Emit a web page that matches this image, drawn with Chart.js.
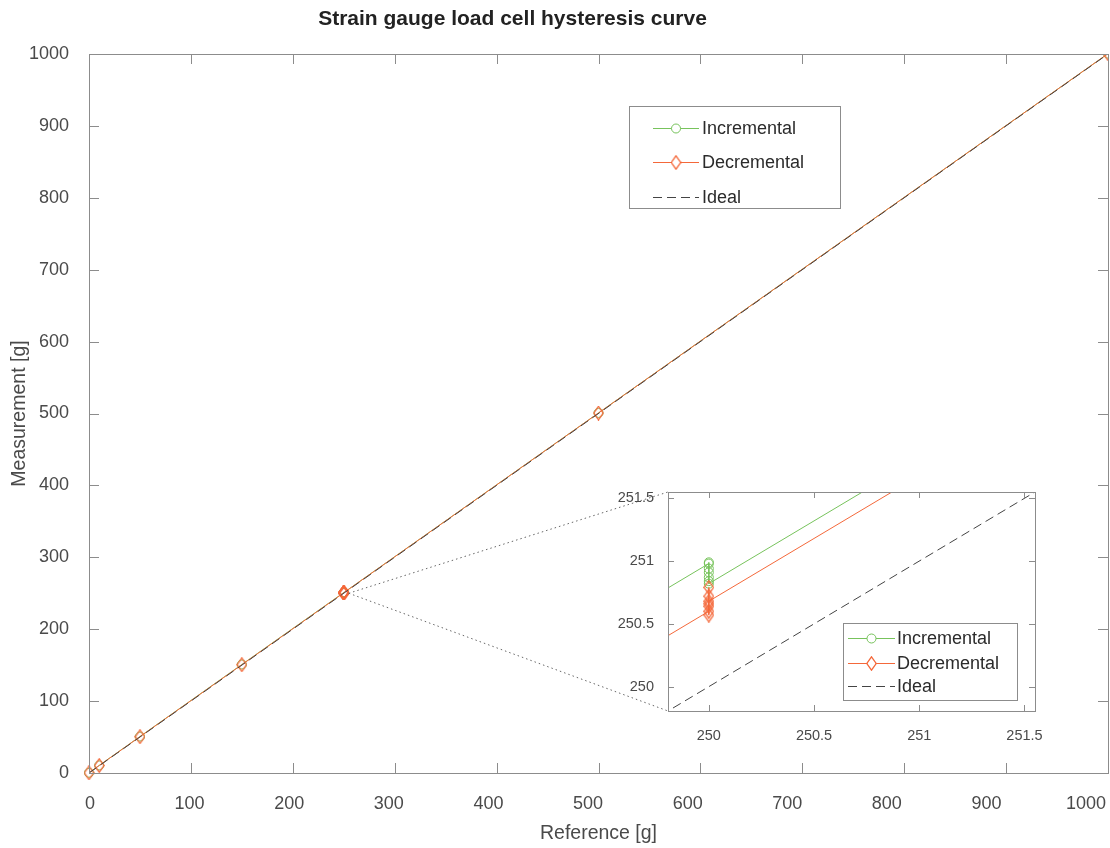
<!DOCTYPE html>
<html>
<head>
<meta charset="utf-8">
<title>Hysteresis curve</title>
<script src="https://cdn.jsdelivr.net/npm/chart.js@4.4.0/dist/chart.umd.min.js"></script>
<style>
    html, body { margin: 0; padding: 0; background: #fff; }
    #wrap { position: relative; width: 1110px; height: 848px; }
    #mainChart { position: absolute; left: 0; top: 0; }
    #insetChart { position: absolute; left: 610px; top: 480px; }
    #title {
        position: absolute; left: 0; top: 6px; width: 1025px; line-height: 24px;
        text-align: center; font: bold 21px 'Liberation Sans', Arial, sans-serif; color: #222;
    }
</style>
</head>
<body>
<div id="wrap">
    <canvas id="mainChart" width="1110" height="848"></canvas>
    <canvas id="insetChart" width="440" height="265"></canvas>
    <div id="title">Strain gauge load cell hysteresis curve</div>
</div>
<script>
// --- datos ---
const xTicks = [0, 100, 200, 300, 400, 500, 600, 700, 800, 900, 1000];
const yTicks = [0, 100, 200, 300, 400, 500, 600, 700, 800, 900, 1000];
const insetTicks = [250, 250.5, 251, 251.5];
const insetMin = 249.806;
const insetMax = 251.55;
const zoomPoint = [250, 250];

// carga incremental (0 -> 1000 g), varias lecturas en 250 g
const incRef = [0, 10, 50, 150, 250, 250, 250, 250, 250, 250, 250, 500, 1000];
const incMeas = [0.3, 10.5, 50.7, 150.95, 250.98, 250.99, 250.94, 250.91, 250.87, 250.84, 250.82, 500.8, 1000.5];

// carga decremental (1000 -> 0 g)
const decRef = [1000, 500, 250, 250, 250, 250, 250, 250, 250, 150, 50, 10, 0];
const decMeas = [1000.5, 500.68, 250.68, 250.79, 250.72, 250.64, 250.57, 250.66, 250.6, 150.6, 50.5, 10.4, 0.2];

// recta ideal
const idealRef = [0, 1000];
const idealMeas = [0, 1000];

const GREEN = '#77c35c';
const ORANGE = '#f4683a';
const IDEAL = '#444444';
const AXIS = '#8c8c8c';
const TXT = '#4a4a4a';
const FONT = "'Liberation Sans', Arial, sans-serif";

Chart.defaults.font.family = FONT;

// escala lineal sin el recorte a int16 (el inset esta muy ampliado)
class FreeLinear extends Chart.LinearScale {
    getPixelForDecimal(decimal) {
        if (this._reversePixels) {
            decimal = 1 - decimal;
        }
        return this._startPixel + decimal * this._length;
    }
}
FreeLinear.id = 'freeLinear';
FreeLinear.defaults = Chart.LinearScale.defaults;
Chart.register(FreeLinear);

function diamond(color) {
    const c = document.createElement('canvas');
    c.width = 11;
    c.height = 15;
    const g = c.getContext('2d');
    g.strokeStyle = color;
    g.lineWidth = 1.3;
    g.beginPath();
    g.moveTo(5.5, 0.8);
    g.lineTo(10.2, 7.5);
    g.lineTo(5.5, 14.2);
    g.lineTo(0.8, 7.5);
    g.closePath();
    g.stroke();
    return c;
}
const diamondImg = diamond(ORANGE);

function toXY(xs, ys) {
    return xs.map((x, i) => ({ x: x, y: ys[i] }));
}

function makeDatasets(clip) {
    return [
        {
            label: 'Incremental', data: toXY(incRef, incMeas), showLine: true,
            borderColor: GREEN, borderWidth: 1, pointStyle: 'circle', pointRadius: 4.5,
            pointBorderColor: GREEN, pointBackgroundColor: 'rgba(0,0,0,0)', pointBorderWidth: 1,
            order: 2, clip: clip
        },
        {
            label: 'Decremental', data: toXY(decRef, decMeas), showLine: true,
            borderColor: ORANGE, borderWidth: 1, pointStyle: diamondImg, pointRadius: 5,
            order: 1, clip: clip
        },
        {
            label: 'Ideal', data: toXY(idealRef, idealMeas), showLine: true,
            borderColor: IDEAL, borderWidth: 1, borderDash: [9, 5], pointRadius: 0,
            order: 0, clip: clip
        }
    ];
}

// caja y marcas hacia dentro, estilo MATLAB
function framePlugin(xId, yId, xt, yt, len) {
    return {
        id: 'frame',
        afterDatasetsDraw(chart) {
            const { ctx, chartArea: a } = chart;
            const sx = chart.scales[xId], sy = chart.scales[yId];
            ctx.save();
            ctx.strokeStyle = AXIS;
            ctx.lineWidth = 1;
            ctx.setLineDash([]);
            ctx.beginPath();
            xt.forEach(v => {
                const px = Math.round(sx.getPixelForValue(v)) + 0.5;
                ctx.moveTo(px, a.bottom); ctx.lineTo(px, a.bottom - len);
                ctx.moveTo(px, a.top); ctx.lineTo(px, a.top + len);
            });
            yt.forEach(v => {
                const py = Math.round(sy.getPixelForValue(v)) + 0.5;
                ctx.moveTo(a.left, py); ctx.lineTo(a.left + len, py);
                ctx.moveTo(a.right, py); ctx.lineTo(a.right - len, py);
            });
            ctx.stroke();
            ctx.strokeRect(Math.round(a.left) + 0.5, Math.round(a.top) + 0.5,
                Math.round(a.right - a.left), Math.round(a.bottom - a.top));
            ctx.restore();
        }
    };
}

function legendPlugin(box) {
    return {
        id: 'boxLegend',
        afterDraw(chart) {
            const ctx = chart.ctx;
            ctx.save();
            ctx.fillStyle = '#fff';
            ctx.fillRect(box.x, box.y, box.w, box.h);
            ctx.strokeStyle = AXIS;
            ctx.lineWidth = 1;
            ctx.strokeRect(box.x + 0.5, box.y + 0.5, box.w, box.h);
            chart.data.datasets.forEach((ds, i) => {
                const yy = box.rows[i] + 0.5;
                ctx.strokeStyle = ds.borderColor;
                ctx.setLineDash(ds.borderDash || []);
                ctx.beginPath();
                ctx.moveTo(box.x0, yy);
                ctx.lineTo(box.x1, yy);
                ctx.stroke();
                ctx.setLineDash([]);
                const mx = (box.x0 + box.x1) / 2;
                if (ds.pointStyle === 'circle') {
                    ctx.fillStyle = '#fff';
                    ctx.beginPath();
                    ctx.arc(mx, yy, 4.5, 0, Math.PI * 2);
                    ctx.fill();
                    ctx.stroke();
                } else if (ds.pointStyle && ds.pointRadius) {
                    ctx.fillStyle = '#fff';
                    ctx.fillRect(mx - 4, yy - 6, 8, 12);
                    ctx.drawImage(ds.pointStyle, mx - ds.pointStyle.width / 2, yy - ds.pointStyle.height / 2);
                }
                ctx.fillStyle = '#2b2b2b';
                ctx.font = box.font + 'px ' + FONT;
                ctx.textBaseline = 'middle';
                ctx.fillText(ds.label, box.tx, yy + 1);
            });
            ctx.restore();
        }
    };
}

function setTicks(list) {
    return scale => { scale.ticks = list.map(v => ({ value: v })); };
}

// --- grafico ampliado (inset) ---
const insetCanvas = document.getElementById('insetChart');
const insetChart = new Chart(insetCanvas.getContext('2d'), {
    type: 'scatter',
    data: { datasets: makeDatasets(0) },
    options: {
        responsive: false,
        animation: false,
        events: [],
        layout: { autoPadding: false, padding: { top: 12, right: 15, left: 0, bottom: 0 } },
        plugins: { legend: { display: false }, tooltip: { enabled: false } },
        scales: {
            x: {
                type: 'freeLinear', min: insetMin, max: insetMax,
                grid: { display: false }, border: { display: false },
                ticks: { font: { size: 14.5 }, color: TXT, padding: 8, callback: v => String(v) },
                afterBuildTicks: setTicks(insetTicks),
                afterFit: s => { s.height = 34; s.paddingLeft = 0; s.paddingRight = 0; }
            },
            y: {
                type: 'freeLinear', min: insetMin, max: insetMax,
                grid: { display: false }, border: { display: false },
                ticks: { font: { size: 14.5 }, color: TXT, padding: 6, callback: v => String(v) },
                afterBuildTicks: setTicks(insetTicks),
                afterFit: s => { s.width = 58; s.paddingTop = 0; s.paddingBottom = 0; }
            }
        }
    },
    plugins: [
        framePlugin('x', 'y', insetTicks, insetTicks, 6),
        legendPlugin({ x: 233, y: 143, w: 174, h: 77, rows: [158, 183, 206], x0: 238, x1: 285, tx: 287, font: 18 })
    ]
});

// lineas punteadas desde el punto de 250 g hasta el inset
const connectorPlugin = {
    id: 'connector',
    afterDraw(chart) {
        const ctx = chart.ctx;
        const ia = insetChart.chartArea;
        const ox = insetCanvas.offsetLeft, oy = insetCanvas.offsetTop;
        const px = chart.scales.x.getPixelForValue(zoomPoint[0]);
        const py = chart.scales.y.getPixelForValue(zoomPoint[1]);
        ctx.save();
        ctx.strokeStyle = '#666';
        ctx.lineWidth = 1;
        ctx.setLineDash([1.5, 3]);
        ctx.beginPath();
        ctx.moveTo(px + 5, py);
        ctx.lineTo(ox + ia.left, oy + ia.top);
        ctx.moveTo(px + 5, py);
        ctx.lineTo(ox + ia.left, oy + ia.bottom);
        ctx.stroke();
        ctx.restore();
    }
};

// --- grafico principal ---
const mainChart = new Chart(document.getElementById('mainChart').getContext('2d'), {
    type: 'scatter',
    data: { datasets: makeDatasets({ left: 10, bottom: 10, top: 0, right: 0 }) },
    options: {
        responsive: false,
        animation: false,
        events: [],
        layout: { autoPadding: false, padding: { top: 54, right: 2, left: 0, bottom: 0 } },
        plugins: { legend: { display: false }, tooltip: { enabled: false } },
        scales: {
            x: { type: 'linear', min: 0, max: 1000, display: false },
            // eje solo para etiquetas (en la imagen quedan algo corridas a la izquierda)
            xl: {
                type: 'linear', position: 'bottom', min: -1, max: 1022,
                grid: { display: false }, border: { display: false },
                ticks: { font: { size: 18 }, color: TXT, padding: 12, callback: v => String(v) },
                afterBuildTicks: setTicks(xTicks),
                afterFit: s => { s.height = 75; s.paddingLeft = 0; s.paddingRight = 0; },
                title: { display: true, text: 'Reference [g]', font: { size: 19.5 }, color: TXT, padding: { top: 0, bottom: 3 } }
            },
            y: {
                type: 'linear', min: 0, max: 1000,
                grid: { display: false }, border: { display: false },
                ticks: { font: { size: 18 }, color: TXT, padding: 12, callback: v => String(v) },
                afterBuildTicks: setTicks(yTicks),
                afterFit: s => { s.width = 89; s.paddingTop = 0; s.paddingBottom = 0; },
                title: { display: true, text: 'Measurement [g]', font: { size: 19.5 }, color: TXT, padding: { top: 8, bottom: 0 } }
            }
        }
    },
    plugins: [
        framePlugin('x', 'y', xTicks, yTicks, 10),
        connectorPlugin,
        legendPlugin({ x: 629, y: 106, w: 211, h: 102, rows: [128, 162, 197], x0: 653, x1: 699, tx: 702, font: 18 })
    ]
});
</script>
</body>
</html>
